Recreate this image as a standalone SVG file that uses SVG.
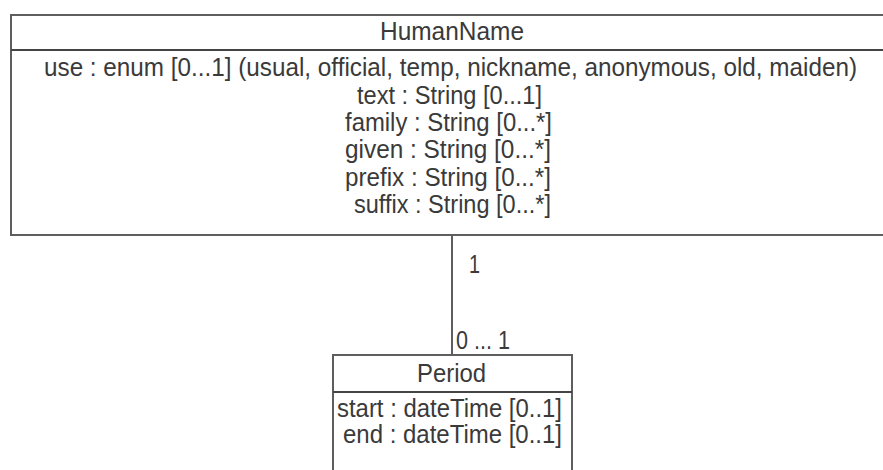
<svg xmlns="http://www.w3.org/2000/svg" width="883" height="470" viewBox="0 0 883 470">
<style>
.box{fill:#fff;stroke:#5e5e5e;stroke-width:2}
.sep{stroke:#444;stroke-width:2}
.conn{stroke:#5e5e5e;stroke-width:2;fill:none}
text{font-family:"Liberation Sans",Arial,sans-serif;font-size:25px;fill:#3a3a3a}
</style>
<rect width="883" height="470" fill="#fff"/>
<g id="connectors">
<line class="conn" x1="452" y1="235" x2="452" y2="355"/>
<text x="469" y="273" textLength="11" lengthAdjust="spacingAndGlyphs">1</text>
<text x="456" y="349" textLength="54" lengthAdjust="spacingAndGlyphs">0 ... 1</text>
</g>
<g id="HumanName">
<rect class="box" x="11" y="15" width="880" height="220"/>
<line class="sep" x1="11" y1="50" x2="891" y2="50"/>
<text x="380" y="40" textLength="144" lengthAdjust="spacingAndGlyphs">HumanName</text>
<text x="44" y="76" textLength="813" lengthAdjust="spacingAndGlyphs">use : enum [0...1] (usual, official, temp, nickname, anonymous, old, maiden)</text>
<text x="357" y="103.5" textLength="185" lengthAdjust="spacingAndGlyphs">text : String [0...1]</text>
<text x="345" y="131" textLength="207" lengthAdjust="spacingAndGlyphs">family : String [0...*]</text>
<text x="345" y="158" textLength="206" lengthAdjust="spacingAndGlyphs">given : String [0...*]</text>
<text x="345" y="186" textLength="206" lengthAdjust="spacingAndGlyphs">prefix : String [0...*]</text>
<text x="354" y="213" textLength="197" lengthAdjust="spacingAndGlyphs">suffix : String [0...*]</text>
</g>
<g id="Period">
<rect class="box" x="333" y="355" width="239" height="130"/>
<line class="sep" x1="333" y1="392" x2="572" y2="392"/>
<text x="417" y="382" textLength="69" lengthAdjust="spacingAndGlyphs">Period</text>
<text x="337" y="417" textLength="225" lengthAdjust="spacingAndGlyphs">start : dateTime [0..1]</text>
<text x="343" y="443" textLength="219" lengthAdjust="spacingAndGlyphs">end : dateTime [0..1]</text>
</g>
</svg>
